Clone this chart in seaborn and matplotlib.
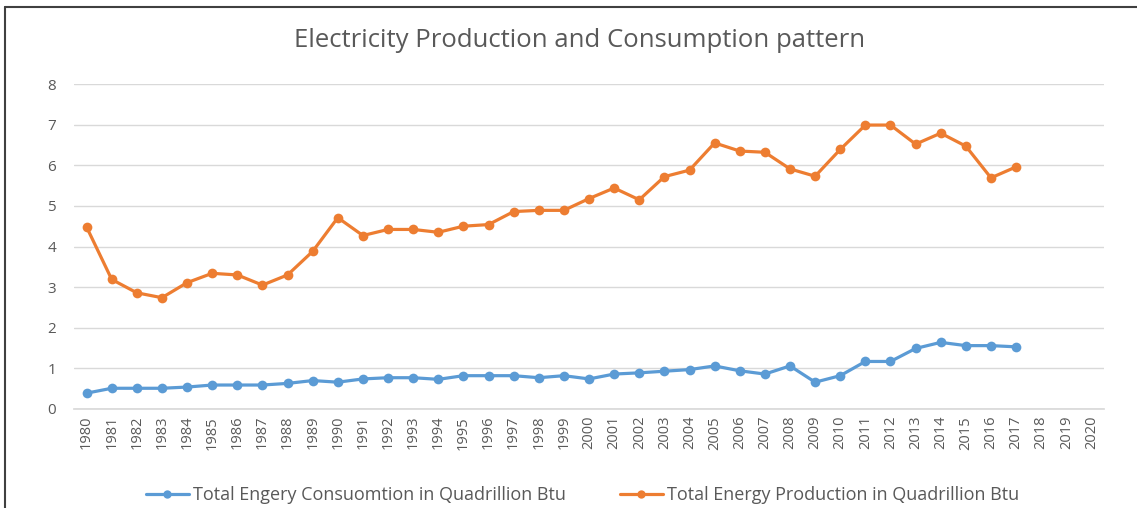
import numpy as np
import pandas as pd
import matplotlib
matplotlib.use("Agg")
import matplotlib.pyplot as plt
import seaborn as sns

# ── data ─────────────────────────────────────────────────────────────────────
years = list(range(1980, 2021))
data_years = list(range(1980, 2018))

consumption = [0.39, 0.51, 0.51, 0.51, 0.54, 0.59, 0.59, 0.59, 0.63, 0.70,
               0.66, 0.74, 0.77, 0.77, 0.73, 0.82, 0.82, 0.82, 0.77, 0.82,
               0.74, 0.86, 0.89, 0.93, 0.97, 1.06, 0.94, 0.86, 1.06, 0.66,
               0.82, 1.17, 1.17, 1.49, 1.64, 1.56, 1.56, 1.53]
production = [4.48, 3.19, 2.86, 2.74, 3.11, 3.34, 3.30, 3.05, 3.30, 3.88,
              4.71, 4.27, 4.42, 4.42, 4.35, 4.50, 4.54, 4.86, 4.89, 4.89,
              5.18, 5.44, 5.15, 5.72, 5.88, 6.55, 6.35, 6.32, 5.91, 5.73,
              6.39, 6.99, 6.99, 6.52, 6.79, 6.47, 5.69, 5.96]

cons_label = "Total Engery Consuomtion in Quadrillion Btu"
prod_label = "Total Energy Production in Quadrillion Btu"

df = pd.DataFrame({
    "Year": data_years * 2,
    "Value": consumption + production,
    "Series": [cons_label] * len(data_years) + [prod_label] * len(data_years),
})
df["pos"] = df["Year"] - years[0]

# ── plot ─────────────────────────────────────────────────────────────────────
sns.set_theme(style="white")
plt.rcParams["font.family"] = ["Open Sans", "DejaVu Sans"]

fig = plt.figure(figsize=(11.37, 5.08), dpi=100)
ax = fig.add_axes([0.0651, 0.1949, 0.9059, 0.6397])

palette = {cons_label: "#5B9BD5", prod_label: "#ED7D31"}
sns.lineplot(data=df, x="pos", y="Value", hue="Series", palette=palette,
             marker="o", markersize=7, markeredgewidth=0, linewidth=2.3,
             ax=ax, legend=False)

ax.set_xlim(-0.5, len(years) - 0.5)
ax.set_ylim(0, 8)
ax.set_xticks(range(len(years)))
ax.set_xticklabels([str(y) for y in years], rotation=90, fontsize=10.5, color="#595959")
ax.set_yticks(range(0, 9))
ax.set_yticklabels([str(v) for v in range(0, 9)], fontsize=11, color="#595959")
ax.tick_params(axis="x", length=0, pad=5)
ax.tick_params(axis="y", length=0, pad=13)
ax.yaxis.grid(True, color="#D9D9D9", linewidth=1)
ax.set_axisbelow(True)
for s in ax.spines.values():
    s.set_visible(False)
ax.spines["bottom"].set_visible(True)
ax.spines["bottom"].set_color("#D9D9D9")
ax.set_xlabel("")
ax.set_ylabel("")

fig.text(0.5095, 0.921, "Electricity Production and Consumption pattern",
         ha="center", va="center", fontsize=18.5, color="#595959")

# legend
handles = [plt.Line2D([], [], color=palette[k], marker="o", markersize=6,
                      markeredgewidth=0, linewidth=2.3) for k in [cons_label, prod_label]]
fig.legend(handles, [cons_label, prod_label], loc="center", bbox_to_anchor=(0.512, 0.025),
           ncol=2, frameon=False, fontsize=13, labelcolor="#595959",
           handlelength=2.4, handletextpad=0.2, columnspacing=3.0)

# outer frame
fig.add_artist(plt.Line2D([5 / 1137, 5 / 1137], [0, 1 - 7 / 508], transform=fig.transFigure,
                          color="#404040", linewidth=1.5))
fig.add_artist(plt.Line2D([5 / 1137, 1], [1 - 7 / 508, 1 - 7 / 508], transform=fig.transFigure,
                          color="#404040", linewidth=1.5))

fig.savefig("out.png", dpi=100)
